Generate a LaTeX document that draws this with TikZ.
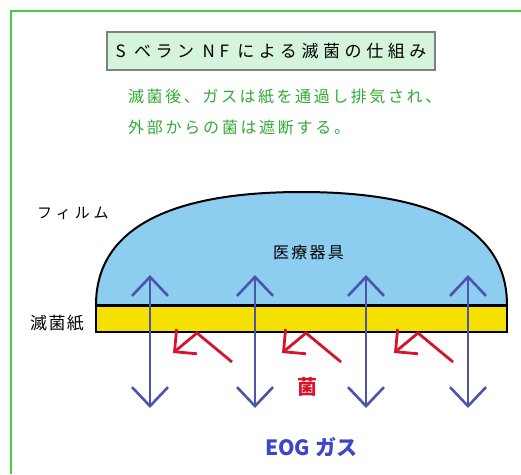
\documentclass[tikz,border=0pt]{standalone}
\usepackage{fontspec}
\setmainfont{Noto Sans CJK JP}
\usetikzlibrary{arrows.meta}

\definecolor{framegreen}{RGB}{70,205,60}
\definecolor{titlefill}{RGB}{212,245,220}
\definecolor{notegreen}{RGB}{50,170,50}
\definecolor{filmblue}{RGB}{140,205,240}
\definecolor{paperyellow}{RGB}{245,225,0}
\definecolor{gasblue}{RGB}{75,85,170}
\definecolor{germred}{RGB}{215,20,45}
\definecolor{eogblue}{RGB}{60,70,200}

\tikzset{
  txt/.style={inner sep=0pt, anchor=west},
  gasarrow/.style={draw=gasblue, line width=2.6pt,
    {Straight Barb[length=19pt,width=36pt]}-{Straight Barb[length=19pt,width=36pt]}},
  germarrow/.style={draw=germred, line width=2.8pt,
    -{Straight Barb[length=16pt,width=32pt]}}
}

\begin{document}
\begin{tikzpicture}[x=1pt,y=-1pt]
      \useasboundingbox (0,0) rectangle (521,474);

      % frame
      \draw[framegreen, line width=2pt] (11,474) -- (11,11) -- (521,11);

      % title and notes
      \node[draw=gray, line width=2pt, fill=titlefill, minimum width=328pt, minimum height=38pt,
        font={\fontsize{17}{17}\selectfont\addfontfeature{LetterSpace=27}}]
        (title) at (271,51) {S ベラン NF による滅菌の仕組み};
      \node[txt, text=notegreen, font={\fontsize{16}{16}\selectfont\addfontfeature{LetterSpace=16}}]
        (note1) at (128,97) {滅菌後、ガスは紙を通過し排気され、};
      \node[txt, text=notegreen, font={\fontsize{16}{16}\selectfont\addfontfeature{LetterSpace=17}}]
        (note2) at (128,127) {外部からの菌は遮断する。};

      % film and paper
      \draw[fill=filmblue, line width=2pt] (96,305) .. controls (96,230) and (167,192) .. (301.5,192)
        .. controls (436,192) and (507,230) .. (507,305) -- cycle;
      \draw[fill=paperyellow, line width=2pt] (96,306) rectangle (507,332);

      \node[txt, font={\fontsize{15}{15}\selectfont\addfontfeature{LetterSpace=27}}]
        (film) at (37,213) {フィルム};
      \node[txt, font={\fontsize{17}{17}\selectfont\addfontfeature{LetterSpace=8}}]
        (paper) at (30,323) {滅菌紙};
      \node[txt, font={\fontsize{16}{16}\selectfont\addfontfeature{LetterSpace=14}}]
        (device) at (273,252) {医療器具};

      % gas
      \coordinate (g1top) at (150,275);
      \coordinate (g1bot) at (150,408);
      \coordinate (g2top) at (255,275);
      \coordinate (g2bot) at (255,408);
      \coordinate (g3top) at (366,275);
      \coordinate (g3bot) at (366,408);
      \coordinate (g4top) at (468,275);
      \coordinate (g4bot) at (468,408);

      \draw[gasarrow] (g1top) -- (g1bot);
      \draw[gasarrow] (g2top) -- (g2bot);
      \draw[gasarrow] (g3top) -- (g3bot);
      \draw[gasarrow] (g4top) -- (g4bot);

      % germs
      \coordinate (b1in) at (232,362);
      \coordinate (b1hit) at (197,333);
      \coordinate (b1out) at (173,353);
      \coordinate (b2in) at (341,362);
      \coordinate (b2hit) at (306,333);
      \coordinate (b2out) at (282,353);
      \coordinate (b3in) at (453,362);
      \coordinate (b3hit) at (418,333);
      \coordinate (b3out) at (394,353);

      \draw[germarrow] (b1in) -- (b1hit) -- (b1out);
      \draw[germarrow] (b2in) -- (b2hit) -- (b2out);
      \draw[germarrow] (b3in) -- (b3hit) -- (b3out);

      \node[text=germred, inner sep=0pt, font={\fontsize{20}{20}\selectfont\bfseries}]
        (germ) at (307,387) {菌};
      \node[txt, text=eogblue, font={\fontsize{21}{21}\selectfont\bfseries}]
        (eog) at (265,447) {EOG ガス};
    \end{tikzpicture}
\end{document}
